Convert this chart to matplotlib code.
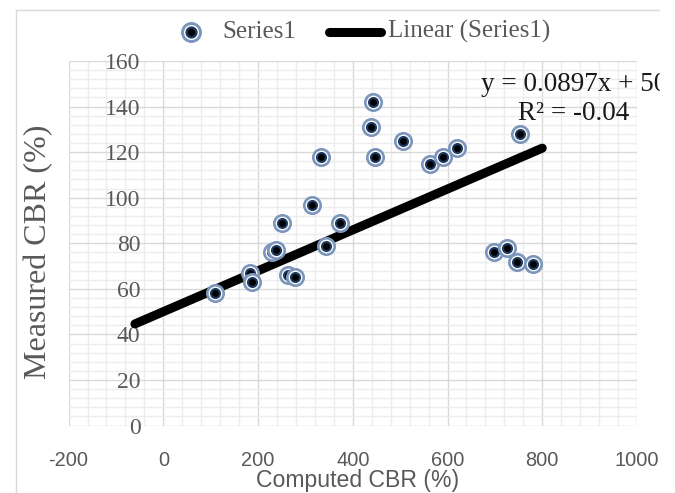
import matplotlib
matplotlib.use("Agg")
import matplotlib.pyplot as plt
from matplotlib.lines import Line2D
from matplotlib.patches import Rectangle
from matplotlib.ticker import MultipleLocator

plt.rcParams["axes.unicode_minus"] = False

# Computed vs measured CBR values (%)
computed_cbr = [109, 182, 187, 230, 238, 263, 277, 251, 313, 333, 344, 373,
                442, 439, 446, 507, 562, 591, 619, 752, 698, 726, 747, 780]
measured_cbr = [58, 67, 63, 76, 77, 66, 65, 89, 97, 118, 79, 89,
                142, 131, 118, 125, 115, 118, 122, 128, 76, 78, 72, 71]

x_ticks = [-200, 0, 200, 400, 600, 800, 1000]
y_ticks = [0, 20, 40, 60, 80, 100, 120, 140, 160]

# Linear trendline (intercept fixed at 50)
trend_slope = 0.0897
trend_intercept = 50
trend_x = [-60, 800]
r_squared = -0.04

SERIF = "Liberation Serif"
SANS = "Liberation Sans"
GRAY = "#595959"
W, H = 675, 493


def fx(px):
    return px / W


def fy(py):
    return 1 - py / H


fig = plt.figure(figsize=(W / 100, H / 100), dpi=100)
ax = fig.add_axes([fx(68.6), fy(425.6), (637 - 68.6) / W, (425.6 - 61) / H])

ax.set_xlim(x_ticks[0], x_ticks[-1])
ax.set_ylim(y_ticks[0], y_ticks[-1])
ax.set_xticks(x_ticks)
ax.set_yticks(y_ticks)
ax.xaxis.set_minor_locator(MultipleLocator(40))
ax.yaxis.set_minor_locator(MultipleLocator(4))

for s in ax.spines.values():
    s.set_visible(False)
# vertical axis crosses at x = 0, labels sit just left of it
ax.spines["left"].set_position(("data", 0))

ax.grid(which="minor", color="#ededed", lw=1.0)
ax.grid(which="major", color="#d9d9d9", lw=1.0)
ax.set_axisbelow(True)

ax.tick_params(axis="both", which="both", length=0)
ax.tick_params(axis="y", pad=16.5, labelsize=17, labelcolor=GRAY)
ax.tick_params(axis="x", pad=18, labelsize=14.4, labelcolor=GRAY)
for lab in ax.get_yticklabels():
    lab.set_fontfamily(SERIF)
for lab in ax.get_xticklabels():
    lab.set_fontfamily(SANS)

# trendline
trend_y = [trend_slope * x + trend_intercept for x in trend_x]
ax.plot(trend_x, trend_y, color="black", lw=6.5, solid_capstyle="round",
        zorder=3, clip_on=False)

# markers: light ring, white gap, navy disc, black centre
RING, NAVY = "#7b95bb", "#1f3a60"
MS_RING, MEW_RING, MS_NAVY, MS_DOT = 11.8, 1.9, 8.0, 4.9


def marker_layers(x, y, z, scale=1.0, **kw):
    return [
        Line2D([x], [y], marker="o", ms=MS_RING * scale, mfc="white",
               mec=RING, mew=MEW_RING * scale, ls="none", zorder=z, **kw),
        Line2D([x], [y], marker="o", ms=MS_NAVY * scale, mfc=NAVY,
               mec="none", ls="none", zorder=z + 0.001, **kw),
        Line2D([x], [y], marker="o", ms=MS_DOT * scale, mfc="black",
               mec="none", ls="none", zorder=z + 0.002, **kw),
    ]


for i, (xv, yv) in enumerate(zip(computed_cbr, measured_cbr)):
    for art in marker_layers(xv, yv, 4 + i * 0.01, clip_on=False):
        ax.add_line(art)

# axis titles
fig.text(fx(358), fy(481), "Computed CBR (%)", ha="center", va="center",
         fontsize=16.6, family=SANS, color=GRAY)
fig.text(fx(39), fy(252), "Measured CBR (%)", ha="center", va="center",
         rotation=90, fontsize=23, family=SERIF, color=GRAY)

# trendline equation
fig.text(fx(574), fy(90.7), f"y = {trend_slope}x + {trend_intercept}",
         ha="center", va="baseline", fontsize=19.5, family=SERIF,
         color="#1a1a1a")
fig.text(fx(574), fy(120), f"R\u00b2 = {r_squared}", ha="center",
         va="baseline", fontsize=19.5, family=SERIF, color="#1a1a1a")

# legend
leg_y = 31.7
for art in marker_layers(fx(191), fy(leg_y), 5, scale=1.1,
                         transform=fig.transFigure):
    fig.add_artist(art)
fig.text(fx(222.7), fy(leg_y), "Series1", ha="left", va="center",
         fontsize=18, family=SERIF, color=GRAY)
fig.add_artist(Line2D([fx(329), fx(381)], [fy(leg_y), fy(leg_y)],
                      color="black", lw=6.5, solid_capstyle="round",
                      transform=fig.transFigure))
fig.text(fx(388), fy(leg_y), "Linear (Series1)", ha="left", va="center",
         fontsize=18, family=SERIF, color=GRAY)

# chart area border
fig.add_artist(Line2D([fx(15.7), fx(660)], [fy(10), fy(10)], color="#d9d9d9",
                      lw=1.0, transform=fig.transFigure))
fig.add_artist(Line2D([fx(15.7), fx(15.7)], [fy(10), 0], color="#d9d9d9",
                      lw=1.0, transform=fig.transFigure))

# right edge cut-off
fig.add_artist(Rectangle((fx(660), 0), 1 - fx(660), 1, color="white",
                         transform=fig.transFigure, zorder=100))

fig.savefig("out.png", dpi=100)
